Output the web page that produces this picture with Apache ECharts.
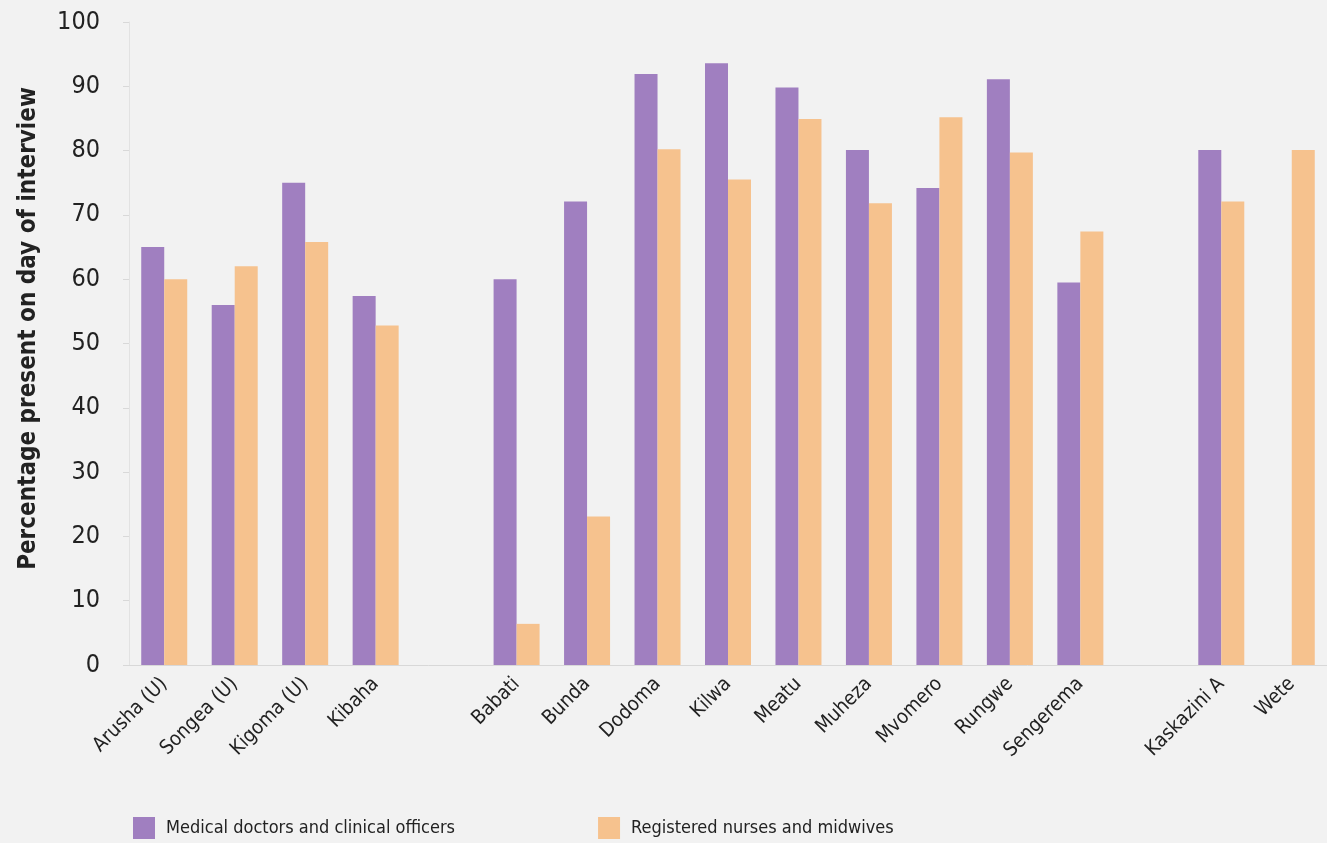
<!DOCTYPE html>
<html>
<head>
<meta charset="utf-8">
<script src="https://cdn.jsdelivr.net/npm/echarts@6/dist/echarts.min.js"></script>
<style>
html,body{margin:0;padding:0;background:#f2f2f2;}
#chart{width:1327px;height:843px;}
</style>
</head>
<body>
<div id="chart"></div>
<script>
const categories = ['Arusha (U)','Songea (U)','Kigoma (U)','Kibaha',' ','Babati','Bunda','Dodoma','Kilwa','Meatu','Muheza','Mvomero','Rungwe','Sengerema','  ','Kaskazini A','Wete'];
const doctors = [65, 56, 75, 57.4, null, 60, 72.1, 91.9, 93.6, 89.8, 80.1, 74.2, 91.1, 59.5, null, 80.1, null];
const nurses = [60, 62, 65.8, 52.8, null, 6.4, 23.1, 80.2, 75.5, 84.9, 71.8, 85.2, 79.7, 67.4, null, 72.1, 80.1];
const seriesNames = ['Medical doctors and clinical officers', 'Registered nurses and midwives'];
const yTicks = {min: 0, max: 100, interval: 10};
const yTitle = 'Percentage present on day of interview';

const FONT = "'Liberation Sans Narrow', 'DejaVu Sans Condensed', 'Noto Sans', sans-serif";
const chart = echarts.init(document.getElementById('chart'), null, {renderer: 'canvas'});
chart.setOption({
  backgroundColor: '#f2f2f2',
  animation: false,
  textStyle: {fontFamily: FONT, color: '#222'},
  grid: {left: 129, top: 22, width: 1200, height: 643, containLabel: false},
  legend: {
    left: 128, top: 812,
    itemWidth: 22, itemHeight: 22, itemGap: 143,
    icon: 'rect',
    textStyle: {fontFamily: FONT, fontSize: 18, color: '#222', padding: [0, 0, 0, 6]},
    data: seriesNames
  },
  xAxis: {
    type: 'category',
    data: categories,
    axisLine: {show: true, lineStyle: {color: '#d8d8d8', width: 1}},
    axisTick: {show: false},
    axisLabel: {rotate: 45, fontSize: 20, color: '#222', fontFamily: FONT, margin: 16, interval: 0}
  },
  yAxis: {
    type: 'value',
    min: yTicks.min, max: yTicks.max, interval: yTicks.interval,
    name: yTitle,
    nameLocation: 'middle',
    nameGap: 88,
    nameTextStyle: {fontFamily: FONT, fontSize: 24, fontWeight: 'bold', color: '#222', padding: [0, 0, 0, 30]},
    axisLine: {show: true, lineStyle: {color: '#e2e2e2'}},
    axisTick: {show: true, length: 6, lineStyle: {color: '#d8d8d8'}},
    splitLine: {show: false},
    axisLabel: {fontSize: 25, color: '#222', fontFamily: FONT, margin: 29}
  },
  series: [
    {name: seriesNames[0], type: 'bar', data: doctors, barWidth: 23, barGap: '0%', itemStyle: {color: '#a07fc0'}},
    {name: seriesNames[1], type: 'bar', data: nurses, barWidth: 23, barGap: '0%', itemStyle: {color: '#f6c28e'}}
  ]
});
</script>
</body>
</html>
